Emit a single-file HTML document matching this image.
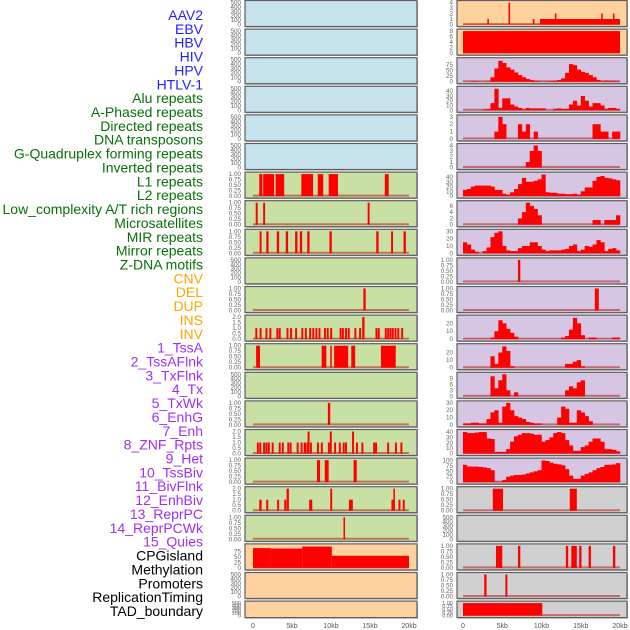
<!DOCTYPE html>
<html><head><meta charset="utf-8">
<style>
html,body{margin:0;padding:0;background:#fff;}
svg{display:block;font-family:"Liberation Sans",sans-serif;}
</style></head>
<body>
<svg id="chart" width="630" height="630" viewBox="0 0 630 630" xmlns="http://www.w3.org/2000/svg"></svg>
<script>
// ---- label data ----
const trackLabels = ["AAV2","EBV","HBV","HIV","HPV","HTLV-1","Alu repeats","A-Phased repeats","Directed repeats","DNA transposons","G-Quadruplex forming repeats","Inverted repeats","L1 repeats","L2 repeats","Low_complexity A/T rich regions","Microsatellites","MIR repeats","Mirror repeats","Z-DNA motifs","CNV","DEL","DUP","INS","INV","1_TssA","2_TssAFlnk","3_TxFlnk","4_Tx","5_TxWk","6_EnhG","7_Enh","8_ZNF_Rpts","9_Het","10_TssBiv","11_BivFlnk","12_EnhBiv","13_ReprPC","14_ReprPCWk","15_Quies","CPGisland","Methylation","Promoters","ReplicationTiming","TAD_boundary"];
const labelGroups = ["virus","virus","virus","virus","virus","virus","repeat","repeat","repeat","repeat","repeat","repeat","repeat","repeat","repeat","repeat","repeat","repeat","repeat","sv","sv","sv","sv","sv","state","state","state","state","state","state","state","state","state","state","state","state","state","state","state","other","other","other","other","other"];
const xTickLabels = ["0","5kb","10kb","15kb","20kb"];
const xTickValues = [0,5,10,15,20];

// ---- tick sets ----
const ticksEmpty = [0,100,200,300,400,500];
const ticksUnit = [0,0.25,0.5,0.75,1];
const ticksTwo = [0,0.5,1,1.5,2];

// ---- middle column data: [startKb, endKb, height] ----
const m6Bars = [[0.8,1.2,1],[1.3,2.7,1],[2.9,4.0,1],[6.2,7.7,1],[8.3,9.0,1],[9.7,10.9,1],[16.9,17.4,1]];
const m7Bars = [[0.35,0.6,1],[1.3,1.55,1],[14.7,14.95,1]];
const m8Bars = [[0.85,1.1,1],[1.7,2.0,1],[3.05,3.35,1],[4.2,4.5,1],[5.4,5.7,1],[6.0,6.3,1],[6.95,7.25,1],[9.8,10.1,1],[15.8,16.1,1],[17.7,17.95,1],[19.3,19.6,1]];
const m10Bars = [[14.15,14.45,1]];
const m11Bars = [[0.3,0.55,1],[0.85,1.1,1],[1.6,1.85,1],[2.1,2.35,1],[3.0,3.25,1],[3.3,3.55,1],[4.3,4.55,1],[4.75,5.0,1],[5.4,5.65,1],[6.2,6.45,1],[6.65,6.9,1],[7.2,7.45,1],[7.6,7.85,1],[8.0,8.25,1],[8.4,8.65,1],[9.1,9.35,1],[9.45,9.7,1],[9.9,10.15,1],[11.1,11.35,1],[11.4,11.65,1],[11.8,12.05,1],[12.15,12.4,1],[13.0,13.25,1],[13.6,13.85,1],[14.0,14.3,2],[15.7,15.95,1],[16.0,16.25,1],[16.9,17.15,1],[17.2,17.45,1],[17.5,17.75,1],[17.8,18.05,1],[18.15,18.4,1],[18.5,18.75,1],[19.0,19.25,1]];
const m12Bars = [[0.4,0.9,1],[8.8,9.4,1],[9.9,10.1,1],[10.4,12.2,1],[12.6,13.1,1],[16.4,18.3,1]];
const m14Bars = [[9.6,9.9,1]];
const m15Bars = [[0.5,0.75,1],[0.8,1.05,1],[1.3,1.55,1],[1.6,1.85,1],[1.9,2.15,1],[2.4,2.65,1],[3.3,3.55,1],[3.7,3.95,1],[4.4,4.65,1],[4.7,4.95,1],[5.6,5.85,1],[6.1,6.35,1],[6.5,6.8,1],[6.85,7.0,1],[7.0,7.25,2],[7.3,7.55,1],[8.2,8.45,1],[8.7,8.95,1],[9.6,9.85,1],[9.85,10.1,2],[10.4,10.65,1],[11.0,11.25,1],[11.5,11.75,1],[11.8,12.05,1],[12.7,12.95,2],[13.2,13.45,1],[13.9,14.15,1],[15.4,15.65,1],[15.65,15.9,1],[17.2,17.45,1],[18.2,18.45,1],[18.9,19.15,1]];
const m16Bars = [[8.2,8.6,1],[9.2,9.7,1],[12.9,13.3,1]];
const m17Bars = [[0.8,1.1,1],[1.7,1.95,1],[3.1,3.35,1],[4.0,4.25,1],[4.3,4.6,2],[7.2,7.6,1],[9.9,10.15,2],[12.3,12.8,1],[17.75,18.0,1],[18.0,18.2,2],[18.65,18.9,1],[19.2,19.45,1]];
const m18Bars = [[11.6,11.8,1]];
const m19Bars = [[0,2.3,90],[2.3,6.3,88],[6.3,10.1,97],[10.1,20,55]];

// ---- right column data ----
const r0Bars = [[0,20,0.05],[3.1,3.3,1],[5.8,6.0,4],[8.9,9.1,1],[9.8,20,1],[11.7,11.9,2],[17.6,17.8,2],[19.1,19.3,2]];
const r1Bars = [[0,20,8]];
const r2Hist = [0,0,2,2,0,0,2,20,60,95,85,65,55,42,30,20,12,8,4,2,0,2,3,4,8,15,40,80,75,55,45,40,30,20,8,2,5,3,4,2];
const r3Hist = [0,0,0,0,0,2,3,15,45,5,25,25,12,8,5,2,5,4,4,4,4,0,0,3,4,3,3,12,20,10,30,20,8,15,15,10,3,5,5,3];
const r4Hist = [0,0,0,0,0,0,0,0,1,3,2,0,0,0,2,1,2,0,1,0,0,0,0,0,0,0,0,0,0,0,0,0,0,2,2,1,1,0,1,1];
const r5Hist = [0,0,0,0,0,0,0,0,0,0,0,0,0,0,0,0,1,3,4,3,0,0,0,0,0,0,0,0,0,0,0,0,0,0,0,0,0,0,0,0];
const r6Hist = [13,15,20,22,22,22,22,20,13,13,5,3,8,15,25,38,30,30,32,35,45,8,7,7,5,5,4,4,5,3,10,18,18,32,40,42,38,37,35,33];
const r7Hist = [0,0,0,0,0,0,0,0,0,0,0,0,0,0,2,4,7,6,5,3,0,0,0,0,0,0,0,0,0,0,0,0,0,1.5,1.5,0,1.5,1.5,1.5,3];
const r8Hist = [15,12,5,2,0,3,8,22,28,30,10,4,3,3,7,10,10,15,15,10,5,3,4,4,4,5,6,10,12,3,5,10,9,12,18,15,3,6,7,4];
const r9Bars = [[7.0,7.3,1]];
const r10Bars = [[16.8,17.3,1]];
const r11Hist = [0,0,0,0,0,0,0,2,10,24,20,13,8,3,0,0,0,0,0,0,0,0,0,0,0,2,4,12,27,20,5,0,2,2,0,0,0,0,2,2];
const r12Hist = [0,0,0,0,0,0,0,15,5,20,28,22,2,0,0,0,0,0,0,0,0,0,0,0,0,0,5,5,8,10,2,0,0,0,0,0,0,0,0,0];
const r13Hist = [0,0,0,0,0,0,0,10,4,8,11,3,0,2,0,0,0,0,0,0,0,0,0,0,0,0,3,5,4,7,8,0,0,0,0,0,0,0,0,0];
const r14Hist = [2,2,3,3,2,2,8,17,20,3,25,30,20,12,10,8,4,3,2,2,0,0,0,0,10,25,22,3,3,20,17,12,5,0,0,0,0,0,0,0];
const r15Hist = [40,38,38,39,40,40,28,27,3,3,3,8,22,32,35,38,38,37,35,35,22,25,30,38,40,38,25,15,5,5,12,15,22,28,28,22,8,8,7,4];
const r16Hist = [80,72,72,72,70,68,65,55,2,2,10,25,30,33,33,35,40,45,50,55,100,98,90,85,82,78,60,30,15,15,30,38,45,55,65,70,80,80,82,88];
const r17Bars = [[3.8,5.1,1],[13.6,14.5,1]];
const r19Bars = [[4.2,5.0,1],[7.0,7.3,1],[13.1,13.4,1],[13.8,14.5,1],[14.8,15.1,1],[16.0,16.3,1],[19.1,19.4,1]];
const r20Bars = [[2.7,3.0,1],[5.4,5.65,1]];
const r21Bars = [[0,10.1,1]];

// ---- panel config (layout/styling) ----
const BLUE="#c6e3ec",GREEN="#c8e0a3",PEACH="#ffd19f",LAV="#d6c5e3",GRAY="#d0d0d0";
const midPanels = [
 {bg:BLUE,ticks:ticksEmpty},{bg:BLUE,ticks:ticksEmpty},{bg:BLUE,ticks:ticksEmpty},{bg:BLUE,ticks:ticksEmpty},{bg:BLUE,ticks:ticksEmpty},{bg:BLUE,ticks:ticksEmpty},
 {bg:GREEN,ticks:ticksUnit,bars:m6Bars},{bg:GREEN,ticks:ticksUnit,bars:m7Bars},{bg:GREEN,ticks:ticksUnit,bars:m8Bars},{bg:GREEN,ticks:ticksEmpty},
 {bg:GREEN,ticks:ticksUnit,bars:m10Bars},{bg:GREEN,ticks:ticksTwo,bars:m11Bars},{bg:GREEN,ticks:ticksUnit,bars:m12Bars},{bg:GREEN,ticks:ticksEmpty},
 {bg:GREEN,ticks:ticksUnit,bars:m14Bars},{bg:GREEN,ticks:ticksTwo,bars:m15Bars},{bg:GREEN,ticks:ticksUnit,bars:m16Bars},{bg:GREEN,ticks:ticksTwo,bars:m17Bars},
 {bg:GREEN,ticks:ticksUnit,bars:m18Bars},{bg:PEACH,ticks:[0,25,50,75],max:100,bars:m19Bars},{bg:PEACH,ticks:ticksEmpty},{bg:PEACH,ticks:ticksEmpty}
];
const rightPanels = [
 {bg:PEACH,ticks:[0,1,2,3,4],bars:r0Bars},{bg:PEACH,ticks:[0,2,4,6,8],bars:r1Bars},
 {bg:LAV,ticks:[0,25,50,75],max:100,hist:r2Hist},{bg:LAV,ticks:[0,10,20,30,40],max:46,hist:r3Hist},
 {bg:LAV,ticks:[0,1,2,3],hist:r4Hist},{bg:LAV,ticks:[0,1,2,3,4],hist:r5Hist},
 {bg:LAV,ticks:[0,10,20,30,40],max:46,hist:r6Hist},{bg:LAV,ticks:[0,2,4,6],max:7,hist:r7Hist},
 {bg:LAV,ticks:[0,10,20,30],hist:r8Hist},{bg:LAV,ticks:ticksUnit,bars:r9Bars},{bg:LAV,ticks:ticksUnit,bars:r10Bars},
 {bg:LAV,ticks:[0,10,20],max:28,hist:r11Hist},{bg:LAV,ticks:[0,10,20],max:29,hist:r12Hist},
 {bg:LAV,ticks:[0,3,6,9],max:11,hist:r13Hist},{bg:LAV,ticks:[0,10,20,30],hist:r14Hist},
 {bg:LAV,ticks:[0,10,20,30,40],max:41,hist:r15Hist},{bg:LAV,ticks:[0,25,50,75,100],max:102,hist:r16Hist},
 {bg:GRAY,ticks:ticksUnit,bars:r17Bars},{bg:GRAY,ticks:ticksEmpty},{bg:GRAY,ticks:ticksUnit,bars:r19Bars},
 {bg:GRAY,ticks:ticksUnit,bars:r20Bars},{bg:GRAY,ticks:ticksUnit,bars:r21Bars}
];

const NS="http://www.w3.org/2000/svg";
const svg=document.getElementById('chart');
function mk(tag,attrs,parent){const e=document.createElementNS(NS,tag);for(const k in attrs)e.setAttribute(k,attrs[k]);(parent||svg).appendChild(e);return e;}

const groupColor={virus:"#1f1fff",repeat:"#0a6e0a",sv:"#ffa500",state:"#a030f0",other:"#000000"};
trackLabels.forEach((t,i)=>{
  const el=mk('text',{x:203,y:15+i*13.86,'text-anchor':'end','dominant-baseline':'central','font-size':'14',fill:groupColor[labelGroups[i]]});
  
  
  el.textContent=t;
});

function fmt(v,ticks){
  const mx=ticks[ticks.length-1];
  if(mx===1) return v.toFixed(2);
  if(mx===2) return v.toFixed(1);
  return String(v);
}

function drawPanel(p,i,col){
  const px0 = col===0?245:457, px1 = col===0?417:627;
  const kb0 = col===0?253:463, kb1 = col===0?409:620;
  const top=i*28.6+0.5, h=(i===21)?16.5:26;
  const g=mk('g',{});
  
  
  mk('rect',{x:px0+1,y:top+1,width:px1-px0,height:h,fill:'#a8a8a8'},g);
  mk('rect',{x:px0,y:top,width:px1-px0,height:h,fill:p.bg,stroke:'#5e5e5e','stroke-width':1.2},g);
  const ticks=p.ticks;
  const ymax=p.max||ticks[ticks.length-1];
  const yb=top+h-2, yt=top+2;
  const ys=v=>yb-(v/ymax)*(yb-yt);
  const xs=v=>kb0+(v/20)*(kb1-kb0);
  ticks.forEach(v=>{
    const tl=mk('text',{x:px0-4,y:ys(v)+2,'text-anchor':'end','font-size':(i===21?'5.5':'6.3'),fill:'#666'},g);
    
    
    tl.textContent=fmt(v,ticks);
  });
  if(p.bars||p.hist){
    mk('line',{x1:xs(0),x2:xs(20),y1:yb-0.5,y2:yb-0.5,stroke:'rgba(180,30,30,0.55)','stroke-width':2},g);
  }
  if(p.bars){
    p.bars.forEach(b=>{
      const r=mk('rect',{x:xs(b[0]),y:ys(b[2]),width:Math.max(1.2,xs(b[1])-xs(b[0])),height:yb-ys(b[2]),fill:'#ff0000'},g);
      
      
    });
  }
  if(p.hist){
    p.hist.forEach((v,k)=>{
      if(v<=0) return;
      const r=mk('rect',{x:xs(k*0.5),y:ys(v),width:xs((k+1)*0.5)-xs(k*0.5)+0.3,height:yb-ys(v),fill:'#ff0000'},g);
      
      
    });
  }
}
midPanels.forEach((p,i)=>drawPanel(p,i,0));
rightPanels.forEach((p,i)=>drawPanel(p,i,1));

[[253,409],[463,620]].forEach(([a,b],c)=>{
  xTickValues.forEach((v,k)=>{
    const t=mk('text',{x:a+(v/20)*(b-a),y:628,'text-anchor':'middle','font-size':'7',fill:'#555'});
    
    
    t.textContent=xTickLabels[k];
  });
});
</script>
</body></html>
